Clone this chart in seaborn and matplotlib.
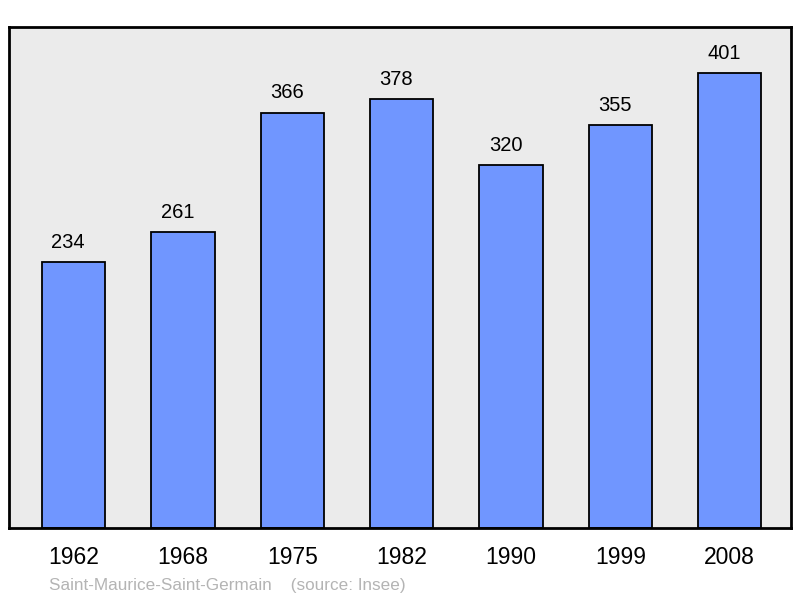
import matplotlib
matplotlib.use("Agg")
import matplotlib.pyplot as plt
import seaborn as sns
import pandas as pd

years = ["1962", "1968", "1975", "1982", "1990", "1999", "2008"]
population = [234, 261, 366, 378, 320, 355, 401]
footer = "Saint-Maurice-Saint-Germain    (source: Insee)"

sns.set_style("white")
plt.rcParams["font.family"] = ["Liberation Sans", "DejaVu Sans"]

df = pd.DataFrame({"year": years, "pop": population})

fig = plt.figure(figsize=(8, 5.98), dpi=100)
ax = fig.add_axes([9 / 800, 1 - 528 / 598, 782 / 800, 501 / 598])
ax.set_facecolor("#ebebeb")

sns.barplot(data=df, x="year", y="pop", color="#7096ff", saturation=1,
            width=0.58, edgecolor="black", linewidth=1.3, ax=ax)

for i, v in enumerate(population):
    ax.text(i - 0.05, v + 9, str(v), ha="center", va="bottom", fontsize=14.5, color="black")

ax.set_xlim(-0.59, 6.56)
ax.set_ylim(0, 441.5)
ax.set_yticks([])
ax.set_xlabel("")
ax.set_ylabel("")
ax.tick_params(axis="x", length=0, pad=13, labelsize=16.5, labelcolor="black")
for s in ax.spines.values():
    s.set_visible(True)
    s.set_color("black")
    s.set_linewidth(2)

fig.text(49 / 800, 1 - 590 / 598, footer, fontsize=12.3, color="#b4b4b4",
         ha="left", va="baseline")

fig.savefig("out.png", dpi=100)
